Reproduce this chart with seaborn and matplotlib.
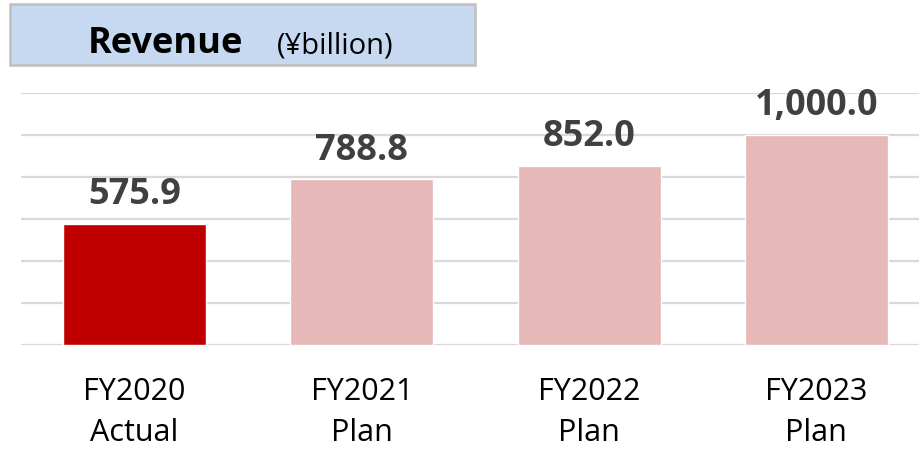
import numpy as np
import pandas as pd
import matplotlib
matplotlib.use("Agg")
import matplotlib.pyplot as plt
import seaborn as sns
from matplotlib.patches import Rectangle

# Data
years = ["FY2020\nActual", "FY2021\nPlan", "FY2022\nPlan", "FY2023\nPlan"]
revenue = [575.9, 788.8, 852.0, 1000.0]
value_labels = ["575.9", "788.8", "852.0", "1,000.0"]
bar_colors = ["#C00000", "#E6B8B7", "#E6B8B7", "#E6B8B7"]

df = pd.DataFrame({"year": years, "revenue": revenue})

sns.set_style("white")
plt.rcParams["font.family"] = ["Open Sans", "DejaVu Sans"]

fig = plt.figure(figsize=(9.2, 4.52), dpi=100)
ax = fig.add_axes([21 / 920, 1 - 346 / 452, 909 / 920, (346 - 94) / 452])

sns.barplot(data=df, x="year", y="revenue", hue="year", palette=bar_colors,
            width=0.63, saturation=1, legend=False, ax=ax, zorder=3)

ax.set_ylim(0, 1200)
ax.set_xlim(-0.5, 3.5)
ax.set_yticks(np.arange(0, 1201, 200))
ax.yaxis.grid(True, color="#D9D9D9", linewidth=1.6, zorder=0)
ax.set_axisbelow(True)
ax.tick_params(axis="y", left=False, labelleft=False)
ax.tick_params(axis="x", bottom=False, pad=19)
for s in ax.spines.values():
    s.set_visible(False)
ax.set_xlabel("")
ax.set_ylabel("")
for lbl in ax.get_xticklabels():
    lbl.set_fontsize(22)
    lbl.set_color("black")
    lbl.set_linespacing(1.45)

# value labels above bars
for i, (v, txt) in enumerate(zip(revenue, value_labels)):
    ax.annotate(txt, xy=(i, v), xytext=(0, 15), textcoords="offset points",
                ha="center", va="baseline", fontsize=26, fontweight="bold",
                color="#404040")

# title box
fig.patches.append(Rectangle((10 / 920, 1 - 66 / 452), 465 / 920, 61 / 452,
                             transform=fig.transFigure, facecolor="#C6D9F1",
                             edgecolor="#BFBFBF", linewidth=1.8))
fig.text(88 / 920, 1 - 53 / 452, "Revenue", fontsize=26, fontweight="bold",
         color="black", va="baseline", ha="left")
fig.text(277 / 920, 1 - 53 / 452, "(¥billion)", fontsize=21,
         color="black", va="baseline", ha="left")

fig.savefig("out.png", dpi=100)
